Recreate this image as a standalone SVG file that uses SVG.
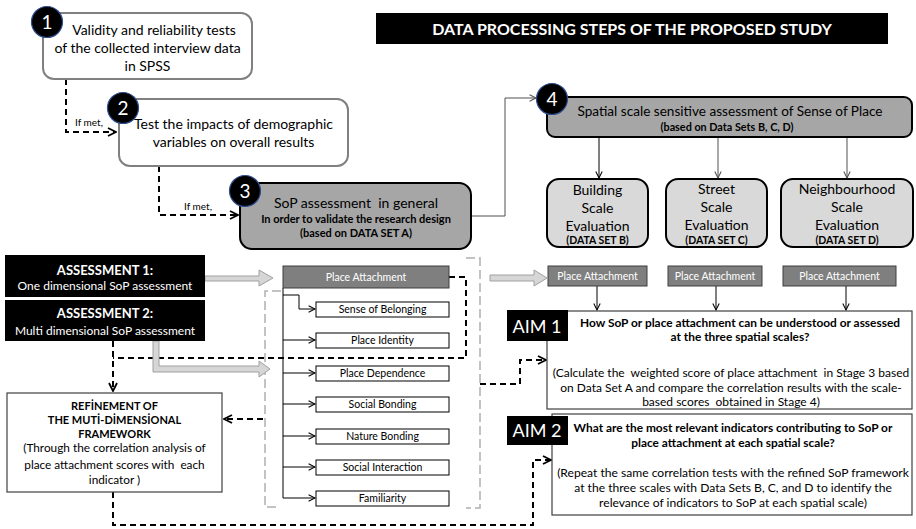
<svg xmlns="http://www.w3.org/2000/svg" width="916" height="529" viewBox="0 0 916 529">
<style>
text{font-family:Lato,"Noto Sans","DejaVu Sans",sans-serif;fill:#000;text-anchor:middle;white-space:pre}
.b{font-weight:bold}
.w{fill:#fff}
.num circle{fill:#000;stroke:#2f4f8f;stroke-width:1.2}
.num text{fill:#fff;font-size:19px}
.step{fill:#fff;stroke:#808080;stroke-width:2}
.gstep{fill:#a6a6a6;stroke:#000;stroke-width:2}
.scale{fill:#d9d9d9;stroke:#000;stroke-width:2}
.pa{fill:#7f7f7f;stroke:#3f3f3f;stroke-width:1}
.ind{fill:#fff;stroke:#000;stroke-width:1}
.blk{fill:#000}
.box{fill:#fff;stroke:#404040;stroke-width:1.2}
.dash{fill:none;stroke:#000;stroke-width:2;stroke-dasharray:6 4}
.gdash{fill:none;stroke:#b0b0b0;stroke-width:1.5;stroke-dasharray:9 4}
.ln{fill:none;stroke:#000;stroke-width:1}
.lng{fill:none;stroke:#505050;stroke-width:1}
.hol{fill:#d6d6d6;stroke:#a0a0a0;stroke-width:1}
</style>
<defs>
<marker id="ah" viewBox="0 0 10 10" refX="9" refY="5" markerWidth="8" markerHeight="8" orient="auto" markerUnits="userSpaceOnUse">
<path d="M1,1 L9,5 L1,9" fill="none" stroke="#000" stroke-width="1.3" stroke-dasharray="none"/>
</marker>
<marker id="ahd" viewBox="0 0 10 10" refX="9" refY="5" markerWidth="10" markerHeight="10" orient="auto" markerUnits="userSpaceOnUse">
<path d="M1,1 L9,5 L1,9" fill="none" stroke="#000" stroke-width="1.8" stroke-dasharray="none"/>
</marker>
<marker id="ahg" viewBox="0 0 10 10" refX="9" refY="5" markerWidth="8" markerHeight="8" orient="auto" markerUnits="userSpaceOnUse">
<path d="M1,1 L9,5 L1,9" fill="none" stroke="#505050" stroke-width="1.3" stroke-dasharray="none"/>
</marker>
</defs>

<g id="title">
<rect class="blk" x="376" y="13" width="512" height="31"/>
<text class="b w" x="632" y="34.5" font-size="16">DATA PROCESSING STEPS OF THE PROPOSED STUDY</text>
</g>

<g id="connectors">
<path class="dash" d="M66,79 V132 H116" marker-end="url(#ahd)"/>
<path class="dash" d="M159,166 V215 H238" marker-end="url(#ahd)"/>
<path class="lng" d="M471,216 H505 V98 H536" marker-end="url(#ahg)"/>
<path class="ln" d="M599,137 V178" marker-end="url(#ah)"/>
<path class="lng" d="M718,137 V178" marker-end="url(#ahg)"/>
<path class="lng" d="M847,137 V178" marker-end="url(#ahg)"/>
<path class="ln" d="M597,286 V310" marker-end="url(#ah)"/>
<path class="ln" d="M716,286 V310" marker-end="url(#ah)"/>
<path class="ln" d="M846,286 V310" marker-end="url(#ah)"/>
<path class="ln" d="M283,288 V498"/>
<path class="ln" d="M283,295 H299 V309 H315" marker-end="url(#ah)"/>
<path class="ln" d="M283,340 H315" marker-end="url(#ah)"/>
<path class="ln" d="M283,373 H315" marker-end="url(#ah)"/>
<path class="ln" d="M283,404 H315" marker-end="url(#ah)"/>
<path class="ln" d="M283,436 H315" marker-end="url(#ah)"/>
<path class="ln" d="M283,467 H315" marker-end="url(#ah)"/>
<path class="ln" d="M283,498 H315" marker-end="url(#ah)"/>
<path class="gdash" d="M281,291 H265 V507 H280"/>
<path class="gdash" d="M466,258 H480 V508 H466"/>
<path class="dash" d="M449,277 H466 V358 H113"/>
<path class="dash" d="M113,341 V391" marker-end="url(#ahd)"/>
<path class="dash" d="M263,419 H224" marker-end="url(#ahd)"/>
<path class="dash" d="M113,492 V525 H533 V460 H551" marker-end="url(#ahd)"/>
<path class="dash" d="M480,384 H520 V360 H546" marker-end="url(#ahd)"/>
<path class="hol" d="M205,276 H259 V270 L273,278 L259,286 V281 H205 Z"/>
<path class="hol" d="M153,341 H159 V366 H259 V361 L270,369 L259,377 V372 H153 Z"/>
<path class="hol" d="M490,275 H534 V270 L547,278 L534,286 V281 H490 Z"/>
<text x="89" y="126" font-size="10" fill="#333">If met,</text>
<text x="198" y="210" font-size="10" fill="#333">If met,</text>
</g>

<g id="step1">
<rect class="step" x="43" y="13" width="209" height="66" rx="11"/>
<text x="154" y="35" font-size="14">Validity and reliability tests</text>
<text x="147.5" y="53" font-size="14">of the collected interview data</text>
<text x="147.5" y="71" font-size="14">in SPSS</text>
<g class="num"><circle cx="47" cy="22" r="15.5"/><text x="47" y="29">1</text></g>
</g>

<g id="step2">
<rect class="step" x="119" y="99" width="229" height="67" rx="11"/>
<text x="233.5" y="129" font-size="14">Test the impacts of demographic</text>
<text x="233.5" y="147" font-size="14">variables on overall results</text>
<g class="num"><circle cx="123" cy="108" r="15.5"/><text x="123" y="115">2</text></g>
</g>

<g id="step3">
<rect class="gstep" x="240" y="183" width="231" height="66" rx="12"/>
<text x="356" y="208" font-size="14">SoP assessment  in general</text>
<text class="b" x="356" y="223" font-size="11">In order to validate the research design</text>
<text class="b" x="356" y="237" font-size="11">(based on DATA SET A)</text>
<g class="num"><circle cx="245" cy="191" r="15.5"/><text x="245" y="198">3</text></g>
</g>

<g id="step4">
<rect class="gstep" x="547" y="97" width="365" height="40" rx="8"/>
<text x="730" y="116" font-size="13.6">Spatial scale sensitive assessment of Sense of Place</text>
<text class="b" x="727" y="131" font-size="10.8">(based on Data Sets B, C, D)</text>
<g class="num"><circle cx="552" cy="99" r="15.5"/><text x="552" y="106">4</text></g>
</g>

<g id="building">
<rect class="scale" x="547" y="179" width="101" height="68" rx="12"/>
<text x="597.5" y="195" font-size="14">Building</text>
<text x="597.5" y="213" font-size="14">Scale</text>
<text x="597.5" y="231" font-size="14">Evaluation</text>
<text class="b" x="597.5" y="244" font-size="10.5">(DATA SET B)</text>
</g>
<g id="street">
<rect class="scale" x="666" y="179" width="101" height="68" rx="12"/>
<text x="716.5" y="194" font-size="14">Street</text>
<text x="716.5" y="212" font-size="14">Scale</text>
<text x="716.5" y="230" font-size="14">Evaluation</text>
<text class="b" x="716.5" y="244" font-size="10.5">(DATA SET C)</text>
</g>
<g id="neighbourhood">
<rect class="scale" x="781" y="179" width="132" height="68" rx="12"/>
<text x="847" y="194" font-size="14">Neighbourhood</text>
<text x="847" y="212" font-size="14">Scale</text>
<text x="847" y="230" font-size="14">Evaluation</text>
<text class="b" x="847" y="244" font-size="10.5">(DATA SET D)</text>
</g>

<g id="assessment1">
<rect class="blk" x="5" y="255" width="200" height="42"/>
<text class="b w" x="105" y="275" font-size="13">ASSESSMENT 1:</text>
<text class="w" x="105" y="290" font-size="12">One dimensional SoP assessment</text>
</g>
<g id="assessment2">
<rect class="blk" x="5" y="300" width="200" height="41"/>
<text class="b w" x="105" y="318" font-size="13">ASSESSMENT 2:</text>
<text class="w" x="105" y="335" font-size="12">Multi dimensional SoP assessment</text>
</g>

<g id="pa-left">
<rect class="pa" x="283" y="266" width="166" height="22"/>
<text class="w" x="366" y="281" font-size="10.5">Place Attachment</text>
</g>
<g id="ind-belonging"><rect class="ind" x="316" y="302" width="133" height="15"/><text x="382.5" y="313" font-size="10.5">Sense of Belonging</text></g>
<g id="ind-identity"><rect class="ind" x="316" y="333" width="133" height="15"/><text x="382.5" y="344" font-size="10.5">Place Identity</text></g>
<g id="ind-dependence"><rect class="ind" x="316" y="366" width="133" height="15"/><text x="382.5" y="377" font-size="10.5">Place Dependence</text></g>
<g id="ind-social"><rect class="ind" x="316" y="397" width="133" height="15"/><text x="382.5" y="408" font-size="10.5">Social Bonding</text></g>
<g id="ind-nature"><rect class="ind" x="316" y="429" width="133" height="15"/><text x="382.5" y="440" font-size="10.5">Nature Bonding</text></g>
<g id="ind-interaction"><rect class="ind" x="316" y="460" width="133" height="15"/><text x="382.5" y="471" font-size="10.5">Social Interaction</text></g>
<g id="ind-familiarity"><rect class="ind" x="316" y="491" width="133" height="15"/><text x="382.5" y="502" font-size="10.5">Familiarity</text></g>

<g id="pa-building"><rect class="pa" x="548" y="266" width="99" height="20"/><text class="w" x="597.5" y="280" font-size="10.5">Place Attachment</text></g>
<g id="pa-street"><rect class="pa" x="668" y="266" width="94" height="20"/><text class="w" x="715" y="280" font-size="10.5">Place Attachment</text></g>
<g id="pa-neighbourhood"><rect class="pa" x="783" y="266" width="113" height="20"/><text class="w" x="839.5" y="280" font-size="10.5">Place Attachment</text></g>

<g id="refinement">
<rect class="box" x="7" y="393" width="215" height="99"/>
<text class="b" x="114.5" y="410" font-size="11">REFİNEMENT OF</text>
<text class="b" x="114.5" y="424" font-size="11">THE MUTİ-DİMENSİONAL</text>
<text class="b" x="114.5" y="438" font-size="11">FRAMEWORK</text>
<text x="114.5" y="452" font-size="11.8">(Through the correlation analysis of</text>
<text x="114.5" y="469" font-size="11.8">place attachment scores with  each</text>
<text x="114.5" y="484" font-size="11.8">indicator )</text>
</g>

<g id="aim1">
<rect class="box" x="547" y="311" width="365" height="98"/>
<rect class="blk" x="507" y="310" width="61" height="31"/>
<text class="w" x="537" y="332.5" font-size="18">AIM 1</text>
<text class="b" x="740" y="327" font-size="11.9">How SoP or place attachment can be understood or assessed</text>
<text class="b" x="740" y="341" font-size="11.9">at the three spatial scales?</text>
<text x="731" y="377" font-size="12">(Calculate the  weighted score of place attachment  in Stage 3 based</text>
<text x="731" y="392" font-size="12">on Data Set A and compare the correlation results with the scale-</text>
<text x="731" y="406" font-size="12">based scores  obtained in Stage 4)</text>
</g>

<g id="aim2">
<rect class="box" x="552" y="414" width="360" height="101"/>
<rect class="blk" x="507" y="416" width="61" height="29"/>
<text class="w" x="537" y="437" font-size="18">AIM 2</text>
<text class="b" x="733" y="432" font-size="11.9">What are the most relevant indicators contributing to SoP or</text>
<text class="b" x="733" y="447" font-size="11.9">place attachment at each spatial scale?</text>
<text x="733" y="477" font-size="12.1">(Repeat the same correlation tests with the refined SoP framework</text>
<text x="733" y="492" font-size="12.1">at the three scales with Data Sets B, C, and D to identify the</text>
<text x="733" y="507" font-size="12.1">relevance of indicators to SoP at each spatial scale)</text>
</g>
</svg>
